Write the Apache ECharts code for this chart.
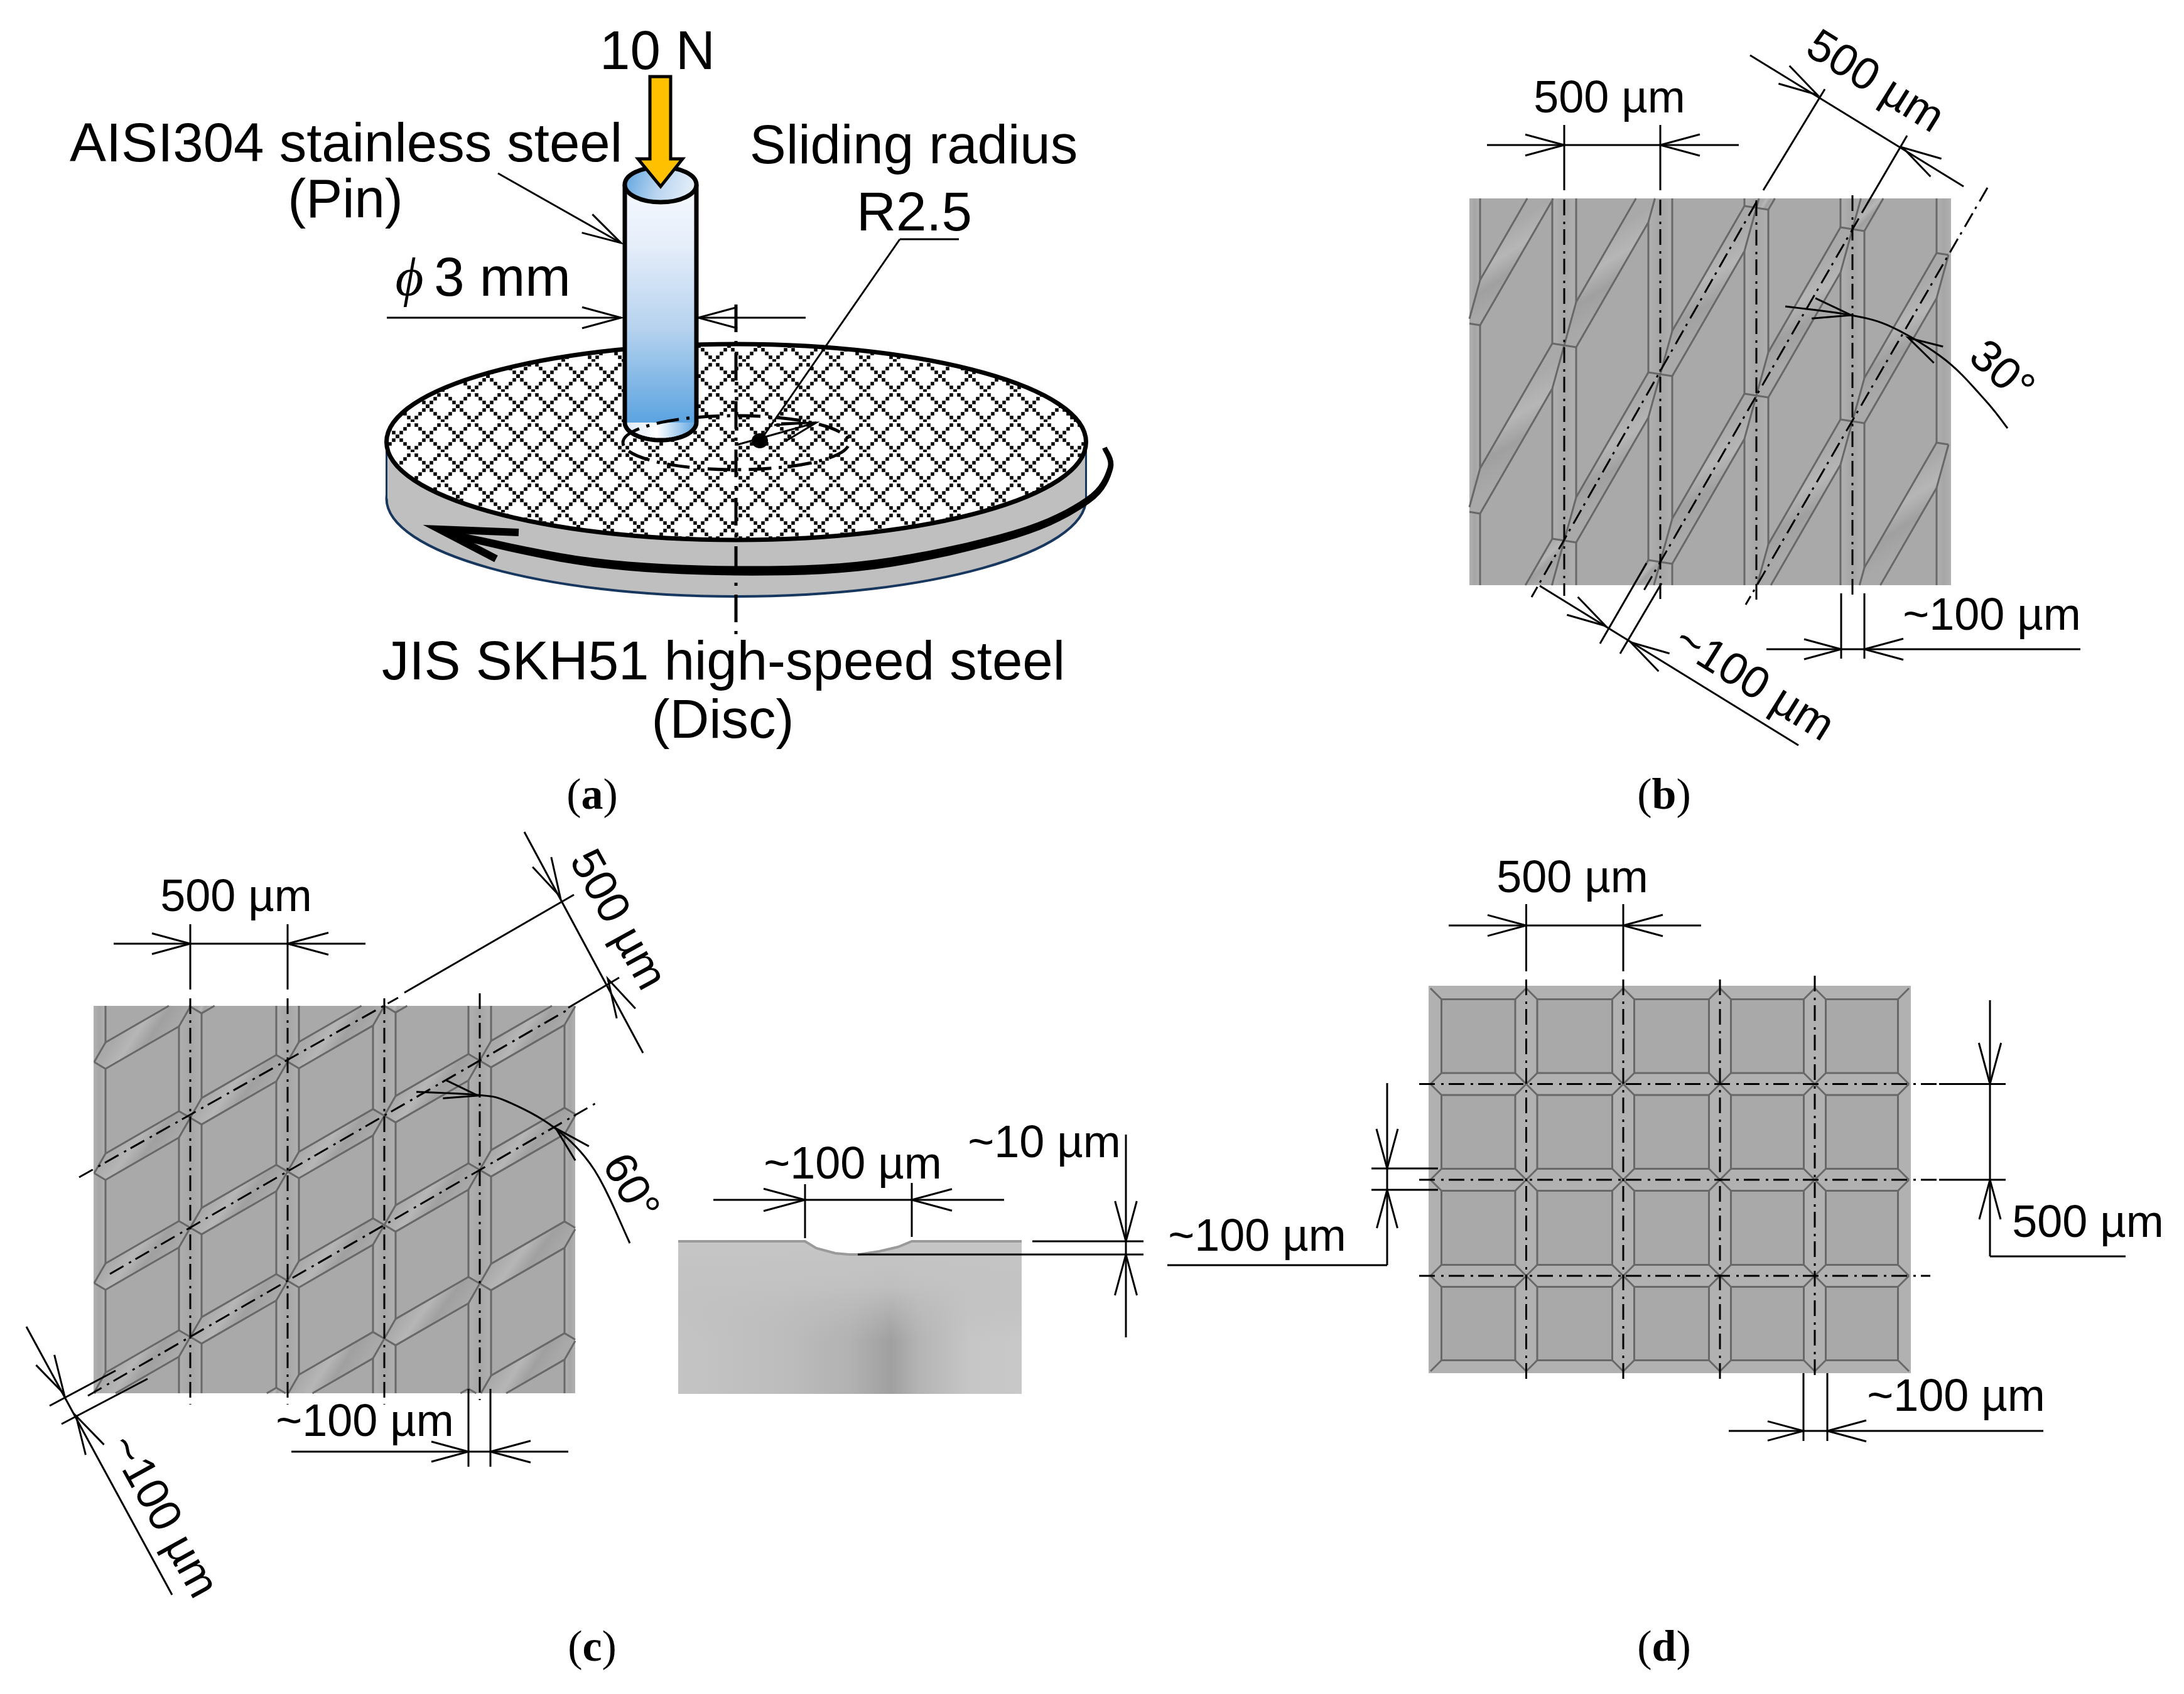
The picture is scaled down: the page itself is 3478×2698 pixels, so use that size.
<!DOCTYPE html>
<html><head><meta charset="utf-8">
<style>html,body{margin:0;padding:0;background:#fff}#c{width:3478px;height:2698px}</style>
<script src="https://cdn.jsdelivr.net/npm/echarts@6/dist/echarts.min.js"></script>
</head><body><div id="c"></div>
<script>
// ---------- picture values (all in image units of the hidden x/y axes) ----------
const labelsBig = [
  ['10 N',1047,110],['AISI304 stainless steel',551,257],['(Pin)',550,346],['3 mm',800,471],
  ['Sliding radius',1455,260],['R2.5',1456,367],['JIS SKH51 high-speed steel',1152,1082],['(Disc)',1151,1175]
];
const labelsDim = [
  ['500 µm',2563,179],['~100 µm',3172,1003],['500 µm',376,1451],['~100 µm',581,2287],
  ['~100 µm',1358,1877],['~10 µm',1663,1843],['~100 µm',2002,1992],
  ['500 µm',2504,1421],['500 µm',3325,1970],['~100 µm',3115,2247]
];
const labelsTurned = [
  ['500 µm',2985,132,-32],['~100 µm',2792,1090,-32],['30°',3186,594,-42],
  ['500 µm',982,1466,-61],['~100 µm',258,2416,-61],['60°',1002,1892,-61]
];
const panelLetters = [['a',943,1270],['b',2650,1270],['c',943,2627],['d',2650,2627]];

// panel (a)
const discCentre = [1172.5,704], discRadii = [557,156], discDepth = 90;
const pinX = [995,1109], pinY = [294,673], pinRadii = [57,28];
const loadArrow = [[1035,122],[1068,122],[1068,253],[1087,253],[1052,297],[1016,253],[1035,253]];
const trackCentre = [1172,705], trackRadii = [180,43];
const turnArrow = [[1759,713],[1768,746],[1732,797],[1616,851],[1393,899],[1170,909],[946,896],[750,858],[700,843]];
const turnWidth = [8,9,11,13,15,15,14,12,10];
const turnHead = [[826,848],[700,843],[790,890]];
const dimA = [[793,276,989,387],[616,506,989,506],[1112,506,1283,506],[1433,381,1212,700],[1433,381,1527,381],
              [1175,708,1300,673],[1233,677,1300,673]];
const headsA = [[989,387,935,356],[989,506,927,506],[1112,506,1174,506],[1300,673,1248,688]];
const dotA = [1210,702];
const axisA = [1172,485,1172,1016];

// panel (b)
const rectB = [2340,316,3107,932];
const groovesB = [2338,2491,2644,2797,2950,3103];
const diagonalsB = [-280,20,331,630,936,1238];
const centreB = [[2491,318,2491,949],[2644,318,2644,955],[2797,319,2797,961],[2950,311,2950,953],
                 [2797,322,2439,951],[2960,348,2618,940],[3165,299,2780,963]];
const dimB = [[2368,231,2644,231],[2644,231,2769,231],[2491,199,2491,303],[2644,199,2644,303],
              [2787,88,3127,297],[2906,142,2808,303],[3037,216,2965,339],
              [2452,933,2864,1187],[2548,1025,2622,897],[2580,1041,2646,929],
              [2932,945,2932,1049],[2969,945,2969,1049],[2813,1034,3313,1034]];
const headsB = [[2491,231,2429,231],[2644,231,2707,231],[2894,151,2841,119],[3030,235,3083,267],
                [2932,1034,2873,1034],[2969,1034,3031,1034],[2557,997,2504,965],[2597,1023,2650,1055],
                [2948,502,2888,491],[3039,538,3087,565]];
const arcB = [[2843,488],[2948,502],[3015,522],[3099,574],[3162,638],[3197,682]];

// panel (c)
const rectC = [149,1602,916,2219];
const groovesC = [150,303,458,612,764,917];
const diagonalsC = [1425,1602,1777,1951,2132,2310];
const centreC = [[303,1590,303,2237],[458,1590,458,2237],[612,1590,612,2237],[764,1582,764,2230],
                 [126,1875,634,1589],[175,2029,901,1610],[140,2223,954,1754]];
const dimC = [[181,1503,458,1503],[458,1503,582,1503],[303,1472,303,1576],[458,1472,458,1576],
              [835,1325,1024,1677],[914,1425,644,1581],[986,1557,905,1605],
              [42,2113,274,2540],[79,2239,184,2183],[98,2268,235,2196],
              [746,2212,746,2336],[781,2212,781,2336],[464,2312,905,2312]];
const headsC = [[303,1503,242,1503],[458,1503,523,1503],[892,1428,863,1373],[968,1559,997,1614],
                [102,2220,72,2166],[121,2255,151,2309],[746,2312,687,2312],[781,2312,845,2312],
                [761,1745,708,1735],[885,1797,927,1837]];
const arcC = [[663,1739],[761,1744],[807,1754],[884,1797],[947,1864],[1003,1980]];

// cross-section
const sectionOutline = [[1080,1977],[1282,1977],[1300,1988],[1330,1996],[1352,1998],[1368,1998],[1400,1993],[1430,1986],[1452,1977],[1627,1977],[1627,2220],[1080,2220]];
const dimS = [[1136,1911,1599,1911],[1282,1886,1282,1972],[1452,1884,1452,1970],
              [1793,1807,1793,2130],[1644,1977,1821,1977],[1366,1998,1821,1998]];
const headsS = [[1282,1911,1216,1911],[1452,1911,1516,1911],[1793,1977,1793,1913],[1793,1998,1793,2063]];

// panel (d)
const rectD = [2275,1570,3043,2187];
const latticeX = [2278,2430.5,2585,2739,2890,3040];
const latticeY = [1574,1726.5,1879,2032,2184];
const centreD = [[2430.5,1560,2430.5,2205],[2585,1560,2585,2205],[2739,1560,2739,2205],[2890,1554,2890,2200],
                 [2260,1726.5,3088,1726.5],[2260,1879,3088,1879],[2260,2032,3074,2032]];
const dimD = [[2307,1474,2709,1474],[2430.5,1440,2430.5,1547],[2585,1440,2585,1547],
              [3169,1593,3169,2001],[3169,2001,3385,2001],[3088,1726.5,3194,1726.5],[3088,1879,3194,1879],
              [2209,1725,2209,2015],[2209,2015,1859,2015],[2184,1861,2290,1861],[2184,1895,2290,1895],
              [2872,2187,2872,2295],[2910,2187,2910,2295],[2753,2279,3254,2279]];
const headsD = [[2430.5,1474,2369,1474],[2585,1474,2648,1474],[3169,1726.5,3169,1661],[3169,1879,3169,1942],
                [2209,1861,2209,1798],[2209,1895,2209,1956],[2872,2279,2815,2279],[2910,2279,2972,2279]];

// ---------- styles ----------
const SANS='"Liberation Sans"', SERIF='"Liberation Serif"';
const INK='#000', EDGE='#686868', STEEL='#a9a9a9';
const LG=(x0,y0,x1,y1,s)=>new echarts.graphic.LinearGradient(x0,y0,x1,y1,s.map(p=>({offset:p[0],color:p[1]})));
const DASHDOT=[25,10,4,8];

function hatch(){
  const c=document.createElement('canvas');c.width=c.height=48;
  const g=c.getContext('2d');g.fillStyle='#fff';g.fillRect(0,0,48,48);g.fillStyle='#0a0a0a';
  const S=5.6;
  for(let i=0;i<8;i++){for(const s of [1,-1]){
    const x=(9+6*i+48)%48,y=(23+s*6*i+48)%48;g.fillRect(x-S/2,y-S/2,S,S);
    if(x<3||y<3){g.fillRect(x-S/2+(x<3?48:0),y-S/2+(y<3?48:0),S,S);}
  }}
  return {image:c,repeat:'repeat'};
}

// ---------- build mark list ----------
const marks=[];
const poly=(pts,style)=>marks.push({k:'polygon',pts,style});
const line=(pts,style)=>marks.push({k:'polyline',pts,style});
const oval=(c,r,style)=>marks.push({k:'ellipse',c,r,style});
const seg=(s,style)=>line([[s[0],s[1]],[s[2],s[3]]],style);
const box=(r,fill)=>poly([[r[0],r[1]],[r[2],r[1]],[r[2],r[3]],[r[0],r[3]]],{fill});
const thin={stroke:INK,lineWidth:3,fill:null};
const dd={stroke:INK,lineWidth:3,fill:null,lineDash:DASHDOT};
const edge={stroke:EDGE,lineWidth:3,fill:null};

function head(h,w){
  const dx=h[2]-h[0],dy=h[3]-h[1],n=0.27;
  line([[h[2]-dy*n,h[3]+dx*n],[h[0],h[1]],[h[2]+dy*n,h[3]-dx*n]],{stroke:INK,lineWidth:w||3,fill:null,lineJoin:'miter',miterLimit:20});
}
function spline(p,steps){
  const o=[];
  for(let i=0;i<p.length-1;i++){
    const a=p[Math.max(i-1,0)],b=p[i],c=p[i+1],d=p[Math.min(i+2,p.length-1)];
    for(let k=0;k<steps;k++){const t=k/steps,t2=t*t,t3=t2*t;
      o.push([0,1].map(j=>0.5*(2*b[j]+(c[j]-a[j])*t+(2*a[j]-5*b[j]+4*c[j]-d[j])*t2+(3*b[j]-a[j]-3*c[j]+d[j])*t3)));
    }
  }
  o.push(p[p.length-1]);return o;
}
function clipPoly(pts,r){
  const planes=[[0,1,r[0]],[0,-1,r[2]],[1,1,r[1]],[1,-1,r[3]]];let out=pts;
  for(const [j,s,v] of planes){
    const inn=p=>s*(p[j]-v)>=0,res=[];
    out.forEach((p,i)=>{const q=out[(i+1)%out.length];
      if(inn(p))res.push(p);
      if(inn(p)!==inn(q)){const t=(v-p[j])/(q[j]-p[j]);res.push([p[0]+(q[0]-p[0])*t,p[1]+(q[1]-p[1])*t]);}
    });
    out=res;if(!out.length)break;
  }
  return out;
}
function clipSeg(a,b,r){
  let t0=0,t1=1;const dx=b[0]-a[0],dy=b[1]-a[1];
  for(const [p,q] of [[-dx,a[0]-r[0]],[dx,r[2]-a[0]],[-dy,a[1]-r[1]],[dy,r[3]-a[1]]]){
    if(p===0){if(q<0)return null;continue;}
    const t=q/p;if(p<0){if(t>t1)return null;if(t>t0)t0=t;}else{if(t<t0)return null;if(t<t1)t1=t;}
  }
  return [[a[0]+dx*t0,a[1]+dy*t0],[a[0]+dx*t1,a[1]+dy*t1]];
}
function groovedPanel(rect,verts,diags,refX,slope,w,H){
  box(rect,STEEL);
  for(const x of verts){
    const r=clipPoly([[x-w,rect[1]],[x+w,rect[1]],[x+w,rect[3]],[x-w,rect[3]]],rect);
    if(r.length)poly(r,{fill:LG(0,0,1,0,[[0,'#b0b0b0'],[.5,'#a6a6a6'],[1,'#b0b0b0']])});
    for(const ex of [x-w,x+w]){const c=clipSeg([ex,rect[1]],[ex,rect[3]],rect);if(c)line(c,edge);}
  }
  for(const c of diags){
    const f=x=>c-slope*(x-refX);
    for(let i=0;i<verts.length-1;i++){
      const a=verts[i],b=verts[i+1];
      const P=[[a,f(a)],[a+w,f(a+w)-H],[b-w,f(b-w)-H],[b,f(b)],[b-w,f(b-w)+H],[a+w,f(a+w)+H]];
      const cl=clipPoly(P,rect);
      if(cl.length)poly(cl,{fill:LG(0,0,1,1,[[0.30,'#a9a9a9'],[.44,'#b6b6b6'],[.56,'#a0a0a0'],[.70,'#a9a9a9']])});
      P.forEach((p,k)=>{const s=clipSeg(p,P[(k+1)%6],rect);if(s)line(s,edge);});
    }
  }
}

// (a)
const [dx0,dy0]=discCentre,[drx,dry]=discRadii;
oval([dx0,dy0+discDepth],discRadii,{fill:'#bfbfbf',stroke:'#17375e',lineWidth:4});
box([dx0-drx,dy0,dx0+drx,dy0+discDepth],'#bfbfbf');
seg([dx0-drx,dy0,dx0-drx,dy0+discDepth],{stroke:'#17375e',lineWidth:3,fill:null});
seg([dx0+drx,dy0,dx0+drx,dy0+discDepth],{stroke:'#17375e',lineWidth:3,fill:null});
oval(discCentre,discRadii,{fill:'@hatch',stroke:INK,lineWidth:7});
seg(axisA,{stroke:INK,lineWidth:5,fill:null,lineDash:[44,14,5,14]});
(function(){ // turning arrow as a tapered ribbon
  const c=spline(turnArrow,8),wd=spline(turnWidth.map((v,i)=>[v,i]),8).map(p=>p[0]);
  const up=[],dn=[];
  c.forEach((p,i)=>{const q=c[Math.min(i+1,c.length-1)],r=c[Math.max(i-1,0)],dx=q[0]-r[0],dy=q[1]-r[1],L=Math.hypot(dx,dy)||1;
    up.push([p[0]-dy/L*wd[i]/2,p[1]+dx/L*wd[i]/2]);dn.unshift([p[0]+dy/L*wd[i]/2,p[1]-dx/L*wd[i]/2]);});
  poly(up.concat(dn),{fill:INK});
  line(turnHead,{stroke:INK,lineWidth:12,fill:null,lineJoin:'miter',miterLimit:20});
})();
// pin
(function(){
  const cx=(pinX[0]+pinX[1])/2,[rx,ry]=pinRadii;
  const lens=[];for(let i=0;i<=40;i++){const t=Math.PI*i/40;lens.push([cx+rx*Math.cos(t),pinY[1]+ry*Math.sin(t)]);}
  poly(lens,{fill:LG(0,0,1,0,[[0,'#dce8f8'],[.45,'#ffffff'],[1,'#5ba3e0']])});
  box([pinX[0],pinY[0],pinX[1],pinY[1]],LG(0,0,0,1,[[0,'#f6f9fe'],[.25,'#e6eefa'],[.6,'#b7d3ef'],[1,'#5ba3e0']]));
  line(lens,{stroke:INK,lineWidth:7,fill:null});
  seg([pinX[0],pinY[0],pinX[0],pinY[1]],{stroke:INK,lineWidth:7,fill:null});
  seg([pinX[1],pinY[0],pinX[1],pinY[1]],{stroke:INK,lineWidth:7,fill:null});
  oval([cx,pinY[0]],pinRadii,{fill:LG(0,0.2,1,0.8,[[0,'#5ba3e0'],[.5,'#bcd6f0'],[1,'#eef4fb']]),stroke:INK,lineWidth:7});
})();
oval(trackCentre,trackRadii,{fill:null,stroke:INK,lineWidth:5,lineDash:[36,12,5,12]});
poly(loadArrow,{fill:'#ffc000',stroke:INK,lineWidth:5,lineJoin:'miter'});
dimA.forEach(s=>seg(s,thin));headsA.forEach(h=>head(h));
oval(dotA,[13,12],{fill:INK});

// (b)
groovedPanel(rectB,groovesB,diagonalsB,2797,1.732,19,36);
centreB.forEach(s=>seg(s,dd));dimB.forEach(s=>seg(s,thin));headsB.forEach(h=>head(h));
line(spline(arcB,8),thin);

// (c)
groovedPanel(rectC,groovesC,diagonalsC,612,0.577,18,21);
centreC.forEach(s=>seg(s,dd));dimC.forEach(s=>seg(s,thin));headsC.forEach(h=>head(h));
line(spline(arcC,8),thin);

// section
poly(sectionOutline,{fill:LG(0,0,1,0,[[0,'#c4c4c4'],[.3,'#bdbdbd'],[.5,'#b2b2b2'],[.62,'#a0a0a0'],[.7,'#b4b4b4'],[.85,'#c6c6c6'],[1,'#c8c8c8']])});
poly(sectionOutline,{fill:LG(0,0,0,1,[[0,'rgba(198,198,198,1)'],[.3,'rgba(194,194,194,.9)'],[.65,'rgba(190,190,190,0)'],[1,'rgba(190,190,190,0)']])});
line(sectionOutline.slice(0,10),{stroke:'#9a9a9a',lineWidth:4,fill:null});
dimS.forEach(s=>seg(s,thin));headsS.forEach(h=>head(h));

// (d)
box(rectD,'#b1b1b1');
(function(){
  const nx=latticeX.length,ny=latticeY.length,g=17.5;
  for(let i=0;i<nx-1;i++)for(let j=0;j<ny-1;j++){
    const l=latticeX[i]+g,r=latticeX[i+1]-g,t=latticeY[j]+g,b=latticeY[j+1]-g;
    poly([[l,t],[r,t],[r,b],[l,b]],{fill:STEEL,stroke:EDGE,lineWidth:3});
    [[l,t,i,j],[r,t,i+1,j],[r,b,i+1,j+1],[l,b,i,j+1]].forEach(c=>seg([c[0],c[1],latticeX[c[2]],latticeY[c[3]]],edge));
  }
})();
centreD.forEach(s=>seg(s,dd));dimD.forEach(s=>seg(s,thin));headsD.forEach(h=>head(h));

// texts
const capMid=s=>0.27*s;
labelsBig.forEach(t=>marks.push({k:'text',text:t[0],x:t[1],y:t[2]-capMid(87),size:87,family:SANS}));
labelsDim.forEach(t=>marks.push({k:'text',text:t[0],x:t[1],y:t[2]-capMid(72),size:72,family:SANS}));
labelsTurned.forEach(t=>marks.push({k:'text',text:t[0],x:t[1],y:t[2],size:72,family:SANS,rot:t[3]}));
marks.push({k:'text',text:'ϕ',x:652,y:471-capMid(87),size:87,family:SERIF,italic:true});
panelLetters.forEach(t=>marks.push({k:'rich',letter:t[0],x:t[1],y:t[2],size:70,family:SERIF}));

// ---------- chart ----------
const hatchFill=hatch();
function renderMark(params,api){
  const m=marks[api.value(0)];
  const P=p=>api.coord(p);
  if(m.k==='polygon'||m.k==='polyline'){
    return {type:m.k,silent:true,shape:{points:m.pts.map(P)},style:Object.assign({},m.style)};
  }
  if(m.k==='ellipse'){
    const c=P(m.c),e=P([m.c[0]+m.r[0],m.c[1]+m.r[1]]);
    const st=Object.assign({},m.style);if(st.fill==='@hatch')st.fill=hatchFill;
    return {type:'ellipse',silent:true,shape:{cx:c[0],cy:c[1],rx:e[0]-c[0],ry:e[1]-c[1]},style:st};
  }
  const c=P([m.x,m.y]);
  if(m.k==='rich'){
    return {type:'text',silent:true,x:c[0],y:c[1],style:{text:'({b|'+m.letter+'})',fontFamily:m.family,fontSize:m.size,fill:'#000',
      align:'center',verticalAlign:'middle',rich:{b:{fontFamily:m.family,fontSize:m.size,fontWeight:'bold',fill:'#000'}}}};
  }
  return {type:'text',silent:true,x:c[0],y:c[1],rotation:(m.rot||0)*Math.PI/180,
    style:{text:m.text,fontFamily:m.family,fontSize:m.size,fontStyle:m.italic?'italic':'normal',fill:'#000',align:'center',verticalAlign:'middle'}};
}
const chart=echarts.init(document.getElementById('c'),null,{renderer:'canvas',width:3478,height:2698});
chart.setOption({
  animation:false,backgroundColor:'#fff',
  grid:{left:0,right:0,top:0,bottom:0},
  xAxis:{type:'value',min:0,max:3478,show:false},
  yAxis:{type:'value',min:0,max:2698,inverse:true,show:false},
  series:[{type:'custom',coordinateSystem:'cartesian2d',clip:false,silent:true,
    data:marks.map((_,i)=>[i,0]),renderItem:renderMark}]
});
</script></body></html>
